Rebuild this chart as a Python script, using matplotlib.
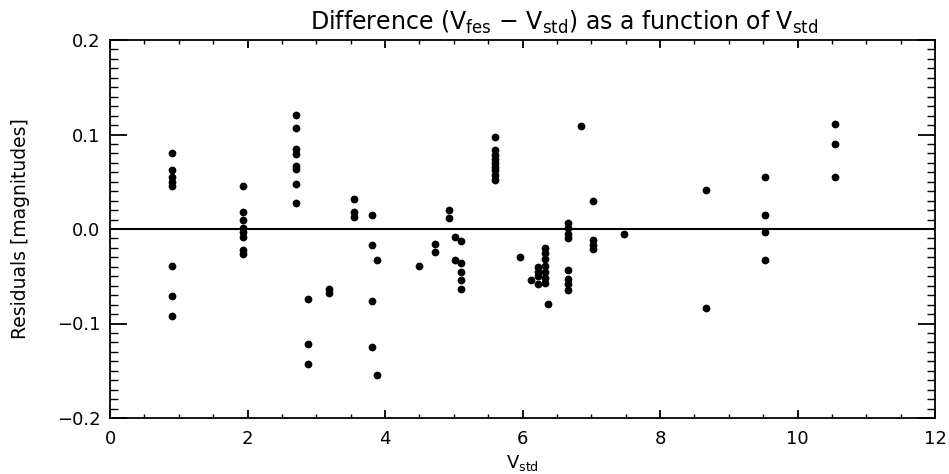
"""
Residuos V_fes - V_std en función de V_std (estilo IDL, todo en negro).
"""
import numpy as np
import matplotlib
matplotlib.use('Agg')
import matplotlib.pyplot as plt
import matplotlib.ticker as mticker

# ─── Datos ───────────────────────────────────────────────────────────────────

# V_std de cada estrella estándar (una columna de puntos por estrella)
v_std_stars = [0.90, 1.93, 2.70, 2.88, 3.18, 3.55, 3.81, 3.89, 4.49, 4.72,
               4.93, 5.02, 5.11, 5.60, 5.97, 6.12, 6.22, 6.33, 6.37, 6.66,
               6.85, 7.02, 7.47, 8.67, 9.52, 10.54]

# residuos (magnitudes) de cada medida, agrupados por estrella
resid_stars = [
    [0.080, 0.062, 0.055, 0.050, 0.045, -0.039, -0.071, -0.092],
    [0.045, 0.018, 0.009, 0.001, -0.003, -0.008, -0.022, -0.026],
    [0.121, 0.107, 0.085, 0.079, 0.067, 0.064, 0.048, 0.027],
    [-0.074, -0.122, -0.143],
    [-0.064, -0.068],
    [0.032, 0.018, 0.013],
    [0.015, -0.017, -0.076, -0.125],
    [-0.033, -0.155],
    [-0.039],
    [-0.016, -0.024],
    [0.020, 0.012],
    [-0.008, -0.033],
    [-0.013, -0.036, -0.045, -0.054, -0.063],
    [0.097, 0.084, 0.078, 0.074, 0.070, 0.066, 0.062, 0.057, 0.052],
    [-0.030],
    [-0.054],
    [-0.040, -0.045, -0.050, -0.058],
    [-0.020, -0.025, -0.032, -0.039, -0.046, -0.052, -0.057],
    [-0.079],
    [0.006, 0.001, -0.005, -0.009, -0.043, -0.053, -0.058, -0.065],
    [0.109],
    [0.030, -0.012, -0.017, -0.021],
    [-0.005],
    [0.041, -0.084],
    [0.055, 0.015, -0.003, -0.033],
    [0.111, 0.090, 0.055],
]

x_ticks = [0, 2, 4, 6, 8, 10, 12]
y_ticks = [-0.2, -0.1, 0.0, 0.1, 0.2]

# ─── Figura ──────────────────────────────────────────────────────────────────

plt.rcParams.update({
    'font.family': 'DejaVu Sans',
    'mathtext.default': 'regular',
    'axes.linewidth': 1.3,
})

# aplanamos: cada residuo con el V_std de su estrella
x = np.concatenate([[v] * len(r) for v, r in zip(v_std_stars, resid_stars)])
y = np.concatenate(resid_stars)

fig = plt.figure(figsize=(9.49, 4.74), dpi=100)
ax = fig.add_axes([110 / 949, 56 / 474, 825 / 949, 378 / 474])

ax.axhline(0.0, color='black', linewidth=1.5, zorder=1)
ax.plot(x, y, 'o', color='black', markersize=5.6, markeredgewidth=0, zorder=2)

ax.set_xlim(0, 12)
ax.set_ylim(-0.2, 0.2)
ax.set_xticks(x_ticks)
ax.set_yticks(y_ticks)
ax.xaxis.set_minor_locator(mticker.MultipleLocator(0.5))
ax.yaxis.set_minor_locator(mticker.MultipleLocator(0.01))
ax.yaxis.set_major_formatter(
    mticker.FuncFormatter(lambda v, _: f'{v:.1f}'.replace('-', '\u2212')))

# ticks hacia adentro en los cuatro lados, largo tipo IDL (2% del plot)
ax.tick_params(which='both', direction='in', top=True, right=True,
               colors='black', labelsize=13)
ax.tick_params(axis='y', which='major', length=12, width=1.3, pad=7)
ax.tick_params(axis='y', which='minor', length=6, width=1.0)
ax.tick_params(axis='x', which='major', length=5.5, width=1.3, pad=9)
ax.tick_params(axis='x', which='minor', length=2.8, width=1.0)

# el título de IDL queda un poco corrido a la derecha del centro
ax.set_title(r'Difference (V$_{fes}$ $-$ V$_{std}$) as a function of V$_{std}$',
             fontsize=17, pad=7, x=0.55)
ax.set_xlabel(r'V$_{std}$', fontsize=13, labelpad=3)
ax.set_ylabel('Residuals [magnitudes]', fontsize=13.5)
ax.yaxis.set_label_coords(-0.097, 0.5)

fig.savefig('out.png', dpi=100)
